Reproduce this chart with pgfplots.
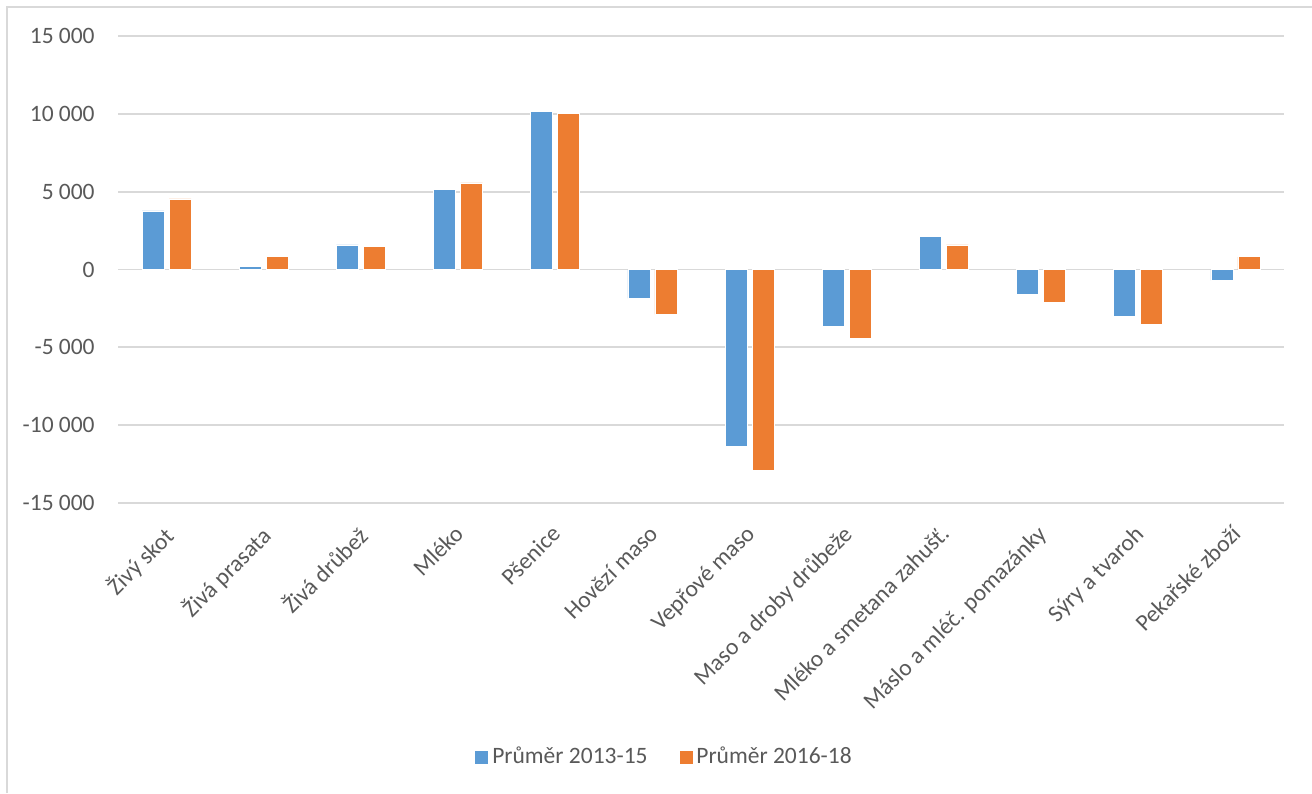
\documentclass[border=0pt]{standalone}
\usepackage{pgfplots}
\pgfplotsset{compat=1.18}
\usepackage{fontspec}
\setmainfont{Carlito}
\definecolor{cblue}{HTML}{5B9BD5}
\definecolor{corange}{HTML}{ED7D31}
\definecolor{gridc}{HTML}{D9D9D9}
\definecolor{txt}{HTML}{595959}
\begin{document}
\begin{tikzpicture}[font=\fontsize{11.75}{14}\selectfont]
\path[use as bounding box] (0,0) rectangle (656pt,396.5pt);
\draw[gridc, line width=1pt] (3.5pt,0) -- (3.5pt,393pt) -- (656pt,393pt);
\begin{axis}[
  at={(59pt,145pt)}, anchor=south west,
  scale only axis, width=583pt, height=233.5pt,
  xmin=-0.5, xmax=11.5, ymin=-15000, ymax=15000,
  ytick={-15000,-10000,...,15000},
  scaled y ticks=false,
  xtick={0,...,11},
  xticklabels={Živý skot, Živá prasata, Živá drůbež, Mléko, Pšenice, Hovězí maso, Vepřové maso, Maso a droby drůbeže, Mléko a smetana zahušť., Máslo a mléč. pomazánky, Sýry a tvaroh, Pekařské zboží},
  ybar=2.5pt, bar width=11pt,
  axis line style={draw=none},
  tick style={draw=none},
  ymajorgrids, grid style={gridc, line width=0.9pt},
  /pgf/number format/fixed,
  /pgf/number format/precision=0,
  /pgf/number format/assume math mode=true,
  /pgf/number format/1000 sep={\hspace{0.22em}},
  yticklabel style={anchor=east, inner sep=0pt, xshift=-11.5pt, text=txt},
  xticklabel style={xshift=-2.5pt, yshift=-6pt, rotate=45, anchor=north east, inner sep=0pt, text=txt},
  legend style={at={(0.4696,-0.5439)}, anchor=center, draw=none, fill=none, legend columns=2,
    /tikz/every even column/.append style={column sep=14pt}, text=txt},
]
\addplot[fill=cblue, draw=white, line width=0.4pt, legend image code/.code={\fill[cblue] (0pt,-3pt) rectangle (6pt,3pt);}] coordinates {
(0,3760) (1,170) (2,1580) (3,5170) (4,10170) (5,-1860) (6,-11360) (7,-3650) (8,2100) (9,-1600) (10,-3010) (11,-700)};
\addplot[fill=corange, draw=white, line width=0.4pt, legend image code/.code={\fill[corange] (0pt,-3pt) rectangle (6pt,3pt);}] coordinates {
(0,4530) (1,810) (2,1460) (3,5560) (4,10040) (5,-2880) (6,-12900) (7,-4440) (8,1580) (9,-2120) (10,-3530) (11,810)};
\legend{Průměr 2013-15, Průměr 2016-18}
\end{axis}
\end{tikzpicture}
\end{document}
